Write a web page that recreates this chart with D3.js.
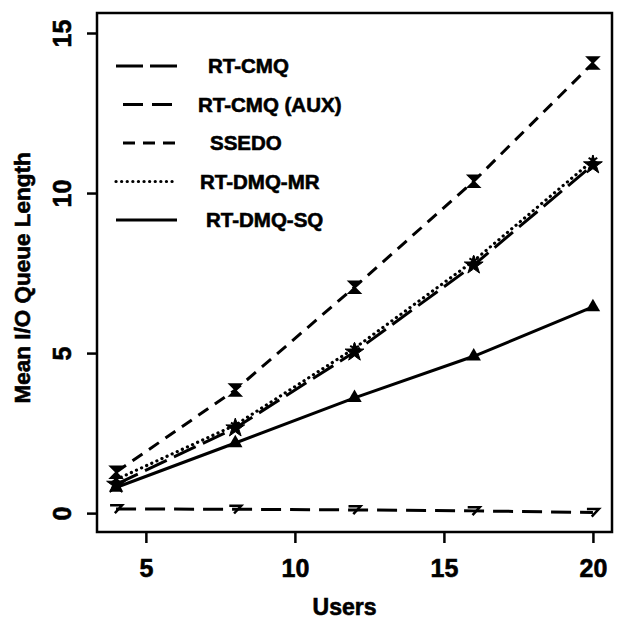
<!DOCTYPE html>
<html>
<head>
<meta charset="utf-8">
<script src="https://cdnjs.cloudflare.com/ajax/libs/d3/7.8.5/d3.min.js"></script>
<style>
  body { margin: 0; background: #fff; }
  text { font-family: "Liberation Sans", Arial, sans-serif; font-weight: bold; fill: #000; stroke: #000; stroke-width: 0.6px; }
</style>
</head>
<body>
<svg id="chart" width="617" height="623"></svg>
<script>
// data
const users = [4, 8, 12, 16, 20];
const seriesNames = ["RT-CMQ", "RT-CMQ (AUX)", "SSEDO", "RT-DMQ-MR", "RT-DMQ-SQ"];
const rtCmq    = [0.90, 2.66, 5.03, 7.75, 10.88];
const rtCmqAux = [0.13, 0.12, 0.10, 0.07, 0.02];
const ssedo    = [1.28, 3.85, 7.06, 10.37, 14.06];
const rtDmqMr  = [1.05, 2.75, 5.15, 7.88, 11.02];
const rtDmqSq  = [0.80, 2.19, 3.60, 4.90, 6.44];
const xTicks = [5, 10, 15, 20];
const yTicks = [0, 5, 10, 15];

const svg = d3.select("#chart");
const margin = { top: 13, right: 5, bottom: 91, left: 97 };
const width = 617 - margin.left - margin.right;
const height = 623 - margin.top - margin.bottom;

const g = svg.append("g")
  .attr("transform", `translate(${margin.left},${margin.top})`);

const x = d3.scaleLinear().domain([3.36, 20.64]).range([0, width]);
const y = d3.scaleLinear().domain([-0.59, 15.625]).range([height, 0]);

// axes, R style: ticks outside, labels bold
const xAxis = g.append("g")
  .attr("transform", `translate(0,${height})`)
  .call(d3.axisBottom(x).tickValues(xTicks).tickSize(11).tickFormat(d3.format("d")));
const yAxis = g.append("g")
  .call(d3.axisLeft(y).tickValues(yTicks).tickSize(10).tickFormat(d3.format("d")));

[xAxis, yAxis].forEach(a => {
  a.select(".domain").remove();
  a.selectAll("line").attr("stroke", "#000").attr("stroke-width", 2.5);
  a.selectAll("text").style("font-size", "25px").style("font-family", null);
});
xAxis.selectAll("text").attr("dy", "0.71em").attr("y", 27);
yAxis.selectAll("text")
  .attr("x", null).attr("dy", null)
  .attr("transform", "translate(-26,0) rotate(-90)")
  .attr("text-anchor", "middle");

// frame
g.append("rect")
  .attr("width", width).attr("height", height)
  .attr("fill", "none").attr("stroke", "#000").attr("stroke-width", 2.5);

// axis titles
svg.append("text")
  .attr("x", margin.left + width / 2 - 10).attr("y", 615)
  .attr("text-anchor", "middle")
  .style("font-size", "23px")
  .text("Users");
svg.append("text")
  .attr("transform", `translate(30,${margin.top + y(7.35)}) rotate(-90)`)
  .attr("text-anchor", "middle")
  .style("font-size", "22.5px")
  .text("Mean I/O Queue Length");

// marker shapes
const hourglass = s => `M${-s},${-s}L${s},${-s}L${-s},${s}L${s},${s}Z`;
const seven = s => `M${-s},${-s * 0.6}L${s},${-s * 0.6}L${-s * 0.2},${s * 0.7}`;
const tri = d3.symbol().type(d3.symbolTriangle).size(90);
const star = d3.symbol().type(d3.symbolStar).size(110);
const cross = d3.symbol().type(d3.symbolAsterisk).size(70);

const series = [
  { name: seriesNames[0], values: rtCmq,    dash: "24,8", cap: "butt",  marker: "star" },
  { name: seriesNames[1], values: rtCmqAux, dash: "20,9", cap: "butt",  marker: "seven" },
  { name: seriesNames[2], values: ssedo,    dash: "12,8", cap: "butt",  marker: "hourglass" },
  { name: seriesNames[3], values: rtDmqMr,  dash: "0.1,5.5", cap: "round", marker: "cross" },
  { name: seriesNames[4], values: rtDmqSq,  dash: null,   cap: "butt",  marker: "tri" }
];

const line = d3.line()
  .x((d, i) => x(users[i]))
  .y(d => y(d));

series.forEach(s => {
  g.append("path")
    .datum(s.values)
    .attr("fill", "none")
    .attr("stroke", "#000")
    .attr("stroke-width", s.cap === "round" ? 3.2 : 3)
    .attr("stroke-linecap", s.cap)
    .attr("stroke-dasharray", s.dash)
    .attr("d", line);

  const pts = g.append("g").selectAll("path")
    .data(s.values)
    .join("path")
    .attr("transform", (d, i) => `translate(${x(users[i])},${y(d)})`);

  if (s.marker === "tri") {
    pts.attr("d", tri).attr("fill", "#000");
  } else if (s.marker === "star") {
    pts.attr("d", star).attr("fill", "#000").attr("stroke", "#000").attr("stroke-width", 1);
  } else if (s.marker === "cross") {
    pts.attr("d", cross).attr("fill", "none").attr("stroke", "#000").attr("stroke-width", 2);
  } else if (s.marker === "hourglass") {
    pts.attr("d", hourglass(6)).attr("fill", "#000").attr("stroke", "#000").attr("stroke-width", 1.5);
  } else if (s.marker === "seven") {
    pts.attr("d", seven(6)).attr("fill", "none").attr("stroke", "#000").attr("stroke-width", 2.5);
  }
});

// legend (no box)
const legendTextX = [208, 198, 210, 200, 206];
const legend = svg.append("g");
series.forEach((s, i) => {
  const ly = 66 + i * 38.5;
  legend.append("line")
    .attr("x1", i === 1 || i === 2 ? 123 : 116).attr("x2", 177)
    .attr("y1", ly).attr("y2", ly)
    .attr("stroke", "#000")
    .attr("stroke-width", s.cap === "round" ? 3.2 : 3)
    .attr("stroke-linecap", s.cap)
    .attr("stroke-dasharray", i === 0 ? "27,7" : s.dash);
  legend.append("text")
    .attr("x", legendTextX[i]).attr("y", ly)
    .attr("dy", "0.36em")
    .style("font-size", "20.5px")
    .text(s.name);
});
</script>
</body>
</html>
